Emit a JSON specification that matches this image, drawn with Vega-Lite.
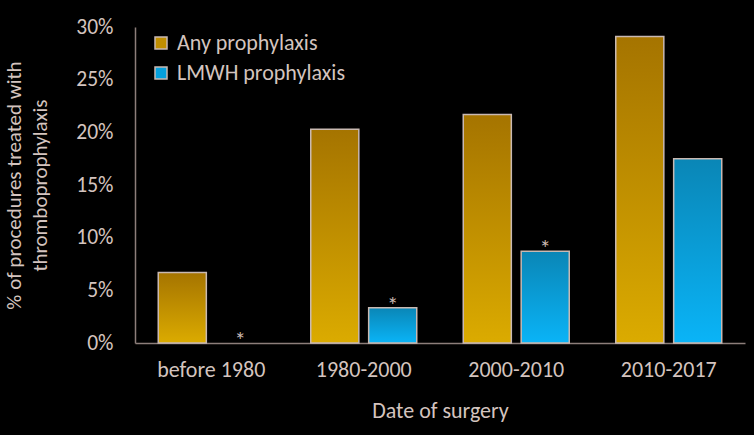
{
  "$schema": "https://vega.github.io/schema/vega-lite/v6.json",
  "autosize": {"type": "none"},
  "width": 610,
  "height": 316,
  "padding": {"left": 135, "top": 27, "right": 9, "bottom": 92},
  "background": "#000000",
  "config": {
    "view": {"stroke": null},
    "font": "Carlito, Lato, sans-serif",
    "axis": {"grid": false, "ticks": false, "domainColor": "#8c7e7a", "domainWidth": 1.5, "labelColor": "#d4c4bf", "titleColor": "#d4c4bf", "titleFontWeight": "normal"}
  },
  "data": {
    "values": [
      {"period": "before 1980", "series": "Any prophylaxis", "value": 0.067, "sig": ""},
      {"period": "before 1980", "series": "LMWH prophylaxis", "value": 0.0, "sig": "*"},
      {"period": "1980-2000", "series": "Any prophylaxis", "value": 0.203, "sig": ""},
      {"period": "1980-2000", "series": "LMWH prophylaxis", "value": 0.0335, "sig": "*"},
      {"period": "2000-2010", "series": "Any prophylaxis", "value": 0.217, "sig": ""},
      {"period": "2000-2010", "series": "LMWH prophylaxis", "value": 0.087, "sig": "*"},
      {"period": "2010-2017", "series": "Any prophylaxis", "value": 0.291, "sig": ""},
      {"period": "2010-2017", "series": "LMWH prophylaxis", "value": 0.175, "sig": ""}
    ]
  },
  "encoding": {
    "x": {
      "field": "period", "type": "nominal", "sort": null,
      "scale": {"paddingInner": 0.305, "paddingOuter": 0.1525},
      "axis": {"labelAngle": 0, "labelFontSize": 22, "labelPadding": 16, "title": "Date of surgery", "titleFontSize": 22, "titlePadding": 20}
    },
    "xOffset": {"field": "series", "type": "nominal", "sort": null, "scale": {"paddingInner": 0.17, "paddingOuter": 0}},
    "y": {
      "field": "value", "type": "quantitative",
      "scale": {"domain": [0, 0.3]},
      "axis": {"format": ".0%", "values": [0, 0.05, 0.1, 0.15, 0.2, 0.25, 0.3], "labelFontSize": 21.5, "labelPadding": 22,
        "title": ["% of procedures treated with", "thromboprophylaxis"], "titleFontSize": 21, "titleLineHeight": 26,
        "titleAngle": -90, "titleX": -115, "titleY": 158, "titleAlign": "center", "titleBaseline": "alphabetic"}
    }
  },
  "layer": [
    {
      "mark": {"type": "bar", "opacity": 0},
      "encoding": {
        "color": {
          "field": "series", "type": "nominal", "sort": null,
          "scale": {"domain": ["Any prophylaxis", "LMWH prophylaxis"], "range": ["#c08e00", "#06a0dc"]},
          "legend": {
            "title": null, "orient": "none", "legendX": 15, "legendY": 5,
            "symbolType": "square", "symbolSize": 144, "symbolOpacity": 1, "symbolStrokeColor": "#c9b9b2", "symbolStrokeWidth": 1.5,
            "labelFontSize": 22, "labelColor": "#d4c4bf", "labelOffset": 5, "labelLimit": 400, "rowPadding": 8
          }
        }
      }
    },
    {
      "transform": [{"filter": "datum.value > 0"}],
      "mark": {"type": "bar", "stroke": "#c9b9b2", "strokeWidth": 1.5},
      "encoding": {
        "color": {
          "condition": {"test": "datum.series === 'Any prophylaxis'",
            "value": {"gradient": "linear", "x1": 0, "y1": 0, "x2": 0, "y2": 1, "stops": [{"offset": 0, "color": "#a57400"}, {"offset": 1, "color": "#dbab00"}]}},
          "value": {"gradient": "linear", "x1": 0, "y1": 0, "x2": 0, "y2": 1, "stops": [{"offset": 0, "color": "#0a86b6"}, {"offset": 1, "color": "#0ab4f7"}]}
        }
      }
    },
    {
      "mark": {"type": "text", "dy": -2, "fontSize": 23, "fill": "#c9b9b2", "baseline": "middle"},
      "encoding": {"text": {"field": "sig"}}
    }
  ]
}
